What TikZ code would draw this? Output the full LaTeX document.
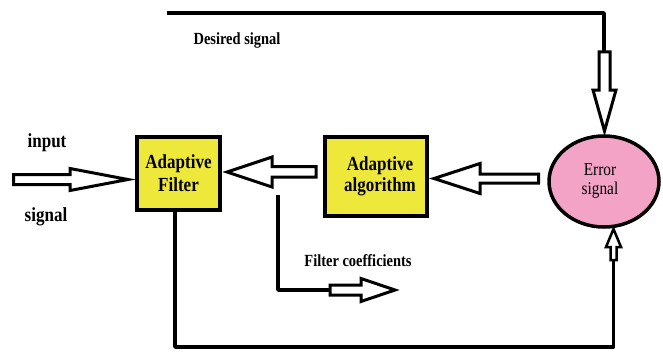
\documentclass[tikz,border=0pt]{standalone}
\usepackage{fontspec}
\usetikzlibrary{shapes.geometric}
\setmainfont{Liberation Serif}[FakeStretch=0.85]
\definecolor{boxyellow}{RGB}{238,232,58}
\definecolor{errpink}{RGB}{242,163,198}
\begin{document}
\begin{tikzpicture}[x=1pt,y=-1pt,
  blockbox/.style={draw=black,line width=4pt,fill=boxyellow,inner sep=0pt,align=center,
    font=\bfseries\fontsize{20}{24}\selectfont},
  errnode/.style={draw=black,line width=3.5pt,fill=errpink,ellipse,inner sep=0pt,align=center,
    font=\fontsize{18}{19}\selectfont},
  hollow/.style={draw=black,line width=3pt,fill=white,line join=miter},
  wire/.style={draw=black,line width=3.5pt,line join=round},
  lbl/.style={inner sep=0pt,font=\bfseries\fontsize{20}{24}\selectfont},
  smalllbl/.style={inner sep=0pt,font=\bfseries\fontsize{17}{20}\selectfont}]
\useasboundingbox (0,0) rectangle (663,353);
\fill[white] (0,0) rectangle (663,353);

% blocks
\node[blockbox,minimum width=83pt,minimum height=73pt] (af) at (178.5,173.5) {Adaptive\\[-1pt]Filter};
\node[blockbox,minimum width=102pt,minimum height=79pt] (alg) at (376,176.5) {\hspace*{8pt}Adaptive\\[-3pt]\hspace*{8pt}algorithm};
\node[errnode,minimum width=110pt,minimum height=91pt] (err) at (604,181.5) {Error\hspace*{8pt}\\signal\hspace*{8pt}};

% labels
\node[lbl] (inlbl) at (47,143) {input};
\node[lbl] (siglbl) at (46,217) {signal};
\node[smalllbl] (deslbl) at (237,40) {Desired signal};
\node[smalllbl] (coeflbl) at (358,261) {Filter coefficients};

% input arrow
\draw[hollow] (13.5,174.5) -- (70,174.5) -- (70,168.5) -- (128,179.5) -- (70,190.5) -- (70,184.5) -- (13.5,184.5) -- cycle;

% algorithm -> filter arrow
\draw[hollow] (316,166.5) -- (272,166.5) -- (272,157) -- (227,172) -- (272,187) -- (272,177) -- (316,177) -- cycle;

% error -> algorithm arrow
\draw[hollow] (538.5,174) -- (480,174) -- (480,163.5) -- (434,178.5) -- (480,193.5) -- (480,183) -- (538.5,183) -- cycle;

% desired signal line and arrow
\coordinate (dstart) at (167,13);
\coordinate (dcorner) at (604,13);
\coordinate (dend) at (604,52);
\draw[wire] (dstart) -- (dcorner) -- (dend);
\draw[hollow] (599,52) -- (610,52) -- (610,90) -- (616,90) -- (604.5,131) -- (593,90) -- (599,90) -- cycle;

% filter coefficients line and arrow
\coordinate (cstart) at (278,195);
\coordinate (ccorner) at (278,290);
\coordinate (cend) at (330,290);
\draw[wire] (cstart) -- (ccorner) -- (cend);
\draw[hollow] (330,285) -- (361,285) -- (361,278.5) -- (395,290) -- (361,301.5) -- (361,295) -- (330,295) -- cycle;

% feedback line and small arrow
\coordinate (fstart) at (175,212);
\coordinate (fc1) at (175,347);
\coordinate (fc2) at (613.5,347);
\coordinate (fend) at (613.5,260);
\draw[wire] (fstart) -- (fc1) -- (fc2) -- (fend);
\draw[hollow,line width=2.5pt] (610.5,260) -- (616.5,260) -- (616.5,247) -- (621,247) -- (613.5,229) -- (606,247) -- (610.5,247) -- cycle;
\end{tikzpicture}
\end{document}
